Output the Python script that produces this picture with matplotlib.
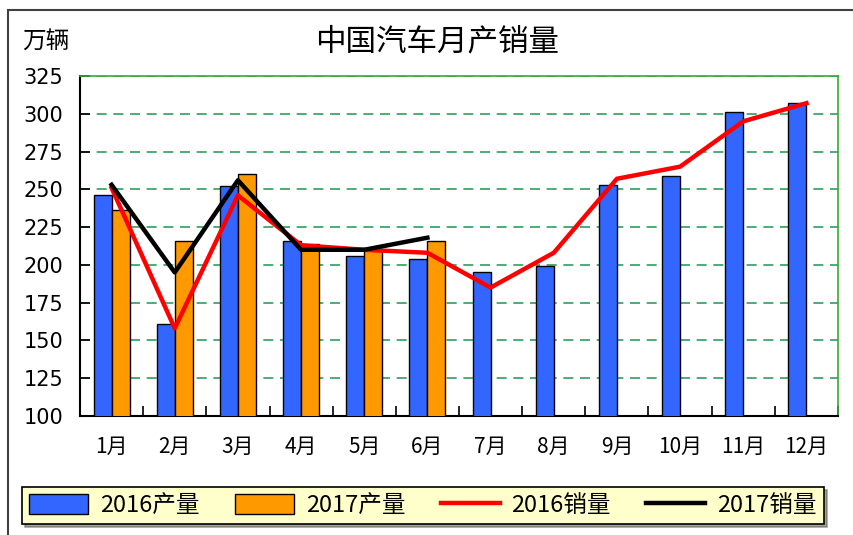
import matplotlib
matplotlib.use("Agg")
import matplotlib.pyplot as plt
from matplotlib.patches import Rectangle
import numpy as np

plt.rcParams['font.family'] = ['Noto Sans CJK SC', 'DejaVu Sans']

# 数据
months = ["1月", "2月", "3月", "4月", "5月", "6月",
          "7月", "8月", "9月", "10月", "11月", "12月"]
prod_2016 = [246, 161, 252, 216, 206, 204, 195, 199, 253, 259, 301, 307]
prod_2017 = [236, 216, 260, 214, 210, 216]
sales_2016 = [251, 158, 246, 213, 210, 208, 185, 208, 257, 265, 295, 307]
sales_2017 = [253, 195, 256, 210, 210, 218]

fig = plt.figure(figsize=(8.54, 5.35), dpi=100)
fig.patch.set_facecolor("white")

# 外框
fig.patches.append(Rectangle((8/854, -0.05), 1.2, 1 - 10/535 + 0.05,
                             transform=fig.transFigure, fill=False,
                             edgecolor="#404040", linewidth=1.5))

ax = fig.add_axes([80/854, 119/535, 758/854, 340/535])

x = np.arange(1, 13)
w = 0.285
b1 = ax.bar(x - w/2, prod_2016, width=w, color="#3366FF", edgecolor="black",
            linewidth=1, zorder=3)
b2 = ax.bar(x[:len(prod_2017)] + w/2, prod_2017, width=w, color="#FF9900",
            edgecolor="black", linewidth=1, zorder=3)
l1, = ax.plot(x, sales_2016, color="#FF0000", linewidth=3.2, zorder=4)
l2, = ax.plot(x[:len(sales_2017)], sales_2017, color="black", linewidth=3.2, zorder=4)

ax.set_xlim(0.5, 12.5)
ax.set_ylim(100, 325)
ax.set_yticks(range(100, 326, 25))
ax.yaxis.grid(True, color="#2E9E5E", linestyle=(0, (6, 4)), linewidth=1.2, zorder=0)
ax.set_axisbelow(True)

ax.set_xticks(x)
ax.set_xticklabels(months, fontsize=15)
ax.set_xticks(np.arange(0.5, 13, 1), minor=True)
ax.tick_params(axis="x", which="major", length=0, pad=14)
ax.tick_params(axis="x", which="minor", direction="in", length=7, width=1.2)
ax.tick_params(axis="y", direction="in", length=7, width=1.2, pad=12, labelsize=15)
for lab in ax.get_yticklabels():
    lab.set_family("DejaVu Sans")

for s in ["top", "right"]:
    ax.spines[s].set_color("#33AA33")
    ax.spines[s].set_linewidth(1.2)
for s in ["left", "bottom"]:
    ax.spines[s].set_color("black")
    ax.spines[s].set_linewidth(1.5)

fig.text(437/854, 1 - 42/535, "中国汽车月产销量", fontsize=22, ha="center", va="center")
fig.text(22/854, 1 - 42/535, "万辆", fontsize=17, ha="left", va="center")

leg = fig.legend([b1, b2, l1, l2], ["2016产量", "2017产量", "2016销量", "2017销量"],
                 loc="upper left", bbox_to_anchor=(22/854, 48/535),
                 ncol=4, fontsize=17, facecolor="#FFFFCC",
                 edgecolor="black", framealpha=1, fancybox=False, shadow=True,
                 handlelength=2.5, handleheight=0.9, handletextpad=0.5,
                 columnspacing=1.5, borderaxespad=0, borderpad=0.3)
leg.get_frame().set_linewidth(1.2)

fig.savefig("out.png", dpi=100)
